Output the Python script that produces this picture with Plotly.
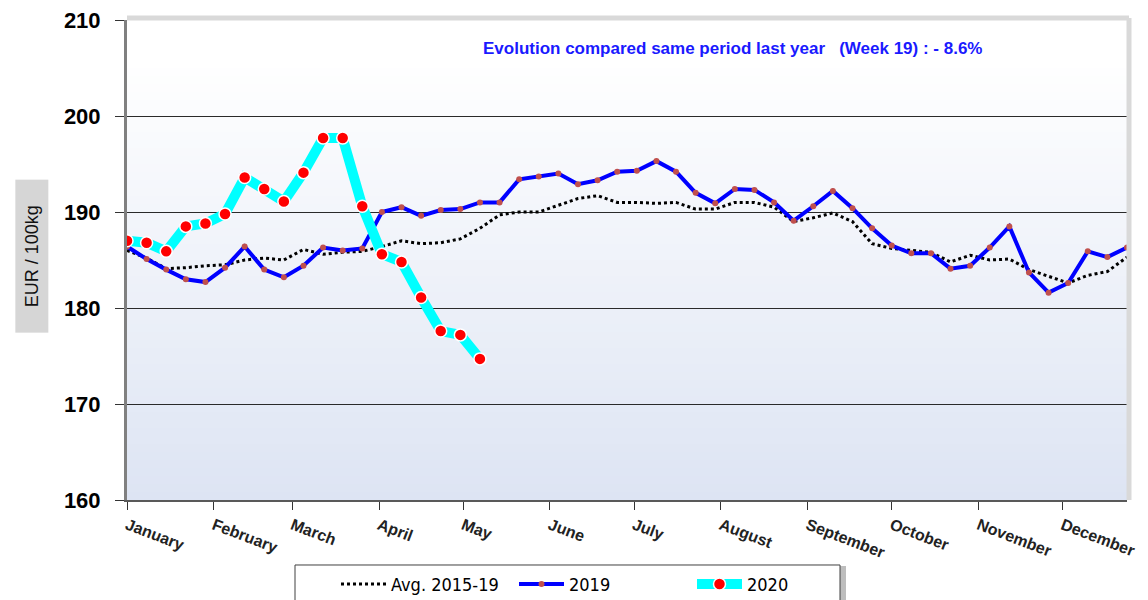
import plotly.graph_objects as go

weeks = list(range(1, 53))

avg_2015_19 = [186.0, 185.2, 184.1, 184.2, 184.4, 184.5, 185.0, 185.2, 185.0, 186.1,
               185.6, 185.8, 185.9, 186.4, 187.0, 186.7, 186.8, 187.2, 188.3, 189.7,
               190.0, 190.0, 190.7, 191.4, 191.7, 191.0, 191.0, 190.9, 191.0, 190.3,
               190.3, 191.0, 191.0, 190.5, 189.0, 189.4, 189.9, 189.0, 186.7, 186.2,
               186.0, 185.8, 184.8, 185.5, 185.0, 185.1, 184.0, 183.3, 182.6, 183.4,
               183.8, 185.3]

y2019 = [186.4, 185.1, 184.0, 183.0, 182.7, 184.2, 186.4, 184.0, 183.2, 184.4,
         186.3, 186.0, 186.2, 190.0, 190.5, 189.6, 190.2, 190.3, 191.0, 191.0,
         193.4, 193.7, 194.0, 192.9, 193.3, 194.2, 194.3, 195.3, 194.2, 192.0,
         190.9, 192.4, 192.3, 191.0, 189.1, 190.6, 192.2, 190.4, 188.3, 186.5,
         185.7, 185.7, 184.1, 184.4, 186.3, 188.5, 183.7, 181.6, 182.6, 185.9,
         185.3, 186.3]

weeks_2020 = list(range(1, 20))
y2020 = [187.0, 186.8, 185.9, 188.5, 188.8, 189.8, 193.6, 192.4, 191.1, 194.1,
         197.7, 197.7, 190.6, 185.6, 184.8, 181.1, 177.6, 177.2, 174.7]

months = ["January", "February", "March", "April", "May", "June", "July",
          "August", "September", "October", "November", "December"]
month_start_day = [0, 31, 59, 90, 120, 151, 181, 212, 243, 273, 304, 334]
month_tickvals = [1 + d / 7 for d in month_start_day]

y_ticks = [160, 170, 180, 190, 200, 210]

NARROW = "Liberation Sans Narrow, Arial Narrow, DejaVu Sans Condensed, Liberation Sans, Arial, sans-serif"
ARIAL = "Liberation Sans, Arial, sans-serif"

fig = go.Figure()

fig.add_trace(go.Scatter(
    x=weeks, y=avg_2015_19, mode="lines", name="Avg. 2015-19",
    line=dict(color="black", width=3, dash="dot"),
))
fig.add_trace(go.Scatter(
    x=weeks, y=y2019, mode="lines+markers", name="2019",
    line=dict(color="#0000ff", width=4),
    marker=dict(color="#c0504d", size=6),
))
fig.add_trace(go.Scatter(
    x=weeks_2020, y=y2020, mode="lines+markers", name="2020",
    line=dict(color="#00ffff", width=10),
    marker=dict(color="#ff0000", size=12, line=dict(color="white", width=1.5)),
))

# gradient background strips (white top -> light blue bottom)
shapes = []
n = 60
top = (255, 255, 255)
bot = (221, 228, 243)
for i in range(n):
    f = (i + 0.5) / n  # 0 at bottom
    f = min(1.0, f / 0.92)
    c = tuple(round(bot[k] + (top[k] - bot[k]) * f) for k in range(3))
    shapes.append(dict(type="rect", xref="paper", yref="paper",
                       x0=0, x1=1, y0=i / n, y1=(i + 1) / n,
                       fillcolor="rgb(%d,%d,%d)" % c, line=dict(width=0),
                       layer="below"))
# light grey frame top and right
shapes.append(dict(type="line", xref="paper", yref="paper", x0=0, x1=1.002, y0=1.004, y1=1.004,
                   line=dict(color="#d9d9d9", width=5), layer="above"))
shapes.append(dict(type="line", xref="paper", yref="paper", x0=1.002, x1=1.002, y0=0, y1=1.004,
                   line=dict(color="#d9d9d9", width=5), layer="above"))
# legend frame with a soft shadow on the right
shapes.append(dict(type="rect", xref="paper", yref="paper", x0=0.171, x1=0.719, y0=-0.25, y1=-0.1375,
                   fillcolor="#bdbdbd", line=dict(width=0), layer="below"))
shapes.append(dict(type="rect", xref="paper", yref="paper", x0=0.168, x1=0.713, y0=-0.25, y1=-0.1354,
                   fillcolor="white", line=dict(color="#404040", width=1), layer="below"))

fig.update_layout(
    width=1140, height=592,
    margin=dict(l=119, r=21, t=12, b=100, autoexpand=False),
    paper_bgcolor="white",
    plot_bgcolor="white",
    shapes=shapes,
    showlegend=True,
    legend=dict(
        orientation="h", x=0.209, y=-0.137, xanchor="left", yanchor="top",
        bgcolor="rgba(0,0,0,0)", borderwidth=0,
        font=dict(family=NARROW, size=18, color="black"),
        entrywidth=118, itemwidth=45,
    ),
    xaxis=dict(
        range=[1, 52], tickmode="array", tickvals=month_tickvals, ticktext=months,
        tickangle=21, ticks="outside", ticklen=8, tickcolor="#333",
        tickfont=dict(family=ARIAL, size=16, color="#222", weight="bold"),
        showgrid=False, zeroline=False, automargin=False, ticklabeloverflow="allow",
        showline=True, linecolor="#595959", linewidth=2,
    ),
    yaxis=dict(
        range=[160, 210], tickmode="array", tickvals=y_ticks,
        ticks="outside", ticklen=9, tickcolor="#333", ticklabelstandoff=10,
        tickfont=dict(family=ARIAL, size=22, color="black", weight="bold"),
        showgrid=True, gridcolor="#2a2a2a", gridwidth=1.4,
        zeroline=False, automargin=False, ticklabeloverflow="allow",
        showline=True, linecolor="#808080", linewidth=3,
    ),
    annotations=[
        dict(text="Evolution compared same period last year   (Week 19) : - 8.6%",
             xref="paper", yref="paper", x=0.605, y=0.94,
             xanchor="center", yanchor="middle", showarrow=False,
             font=dict(family=ARIAL, size=17, color="#1a1aff", weight="bold")),
        dict(text="EUR / 100kg", xref="paper", yref="paper", x=-0.095, y=0.508,
             xanchor="center", yanchor="middle", showarrow=False, textangle=-90,
             font=dict(family=ARIAL, size=18, color="#111"),
             bgcolor="#d6d6d6", borderpad=3, width=146, height=26),
    ],
)

fig.write_html("out.html")
